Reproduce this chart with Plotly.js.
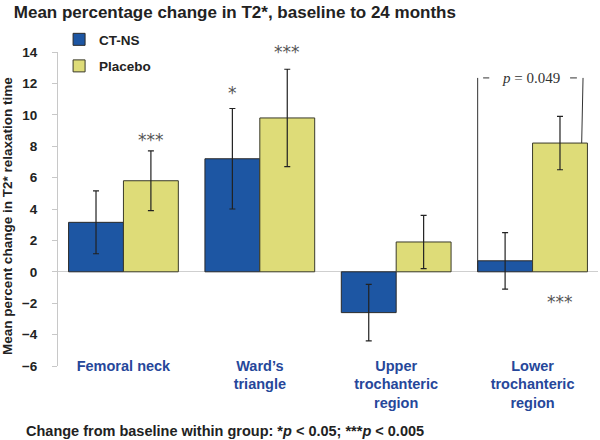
<!DOCTYPE html>
<html>
<head>
<meta charset="utf-8">
<script src="https://cdn.plot.ly/plotly-3.0.1.min.js"></script>
<style>html,body{margin:0;padding:0;background:#fff}#chart{width:600px;height:440px}</style>
</head>
<body>
<div id="chart"></div>
<script>
// ---- data ----
const categories = ["Femoral neck", "Ward\u2019s<br>triangle", "Upper<br>trochanteric<br>region", "Lower<br>trochanteric<br>region"];
const ctnsValues = [3.15, 7.2, -2.6, 0.7];
const ctnsErrors = [2.0, 3.2, 1.8, 1.8];
const placeboValues = [5.8, 9.8, 1.9, 8.2];
const placeboErrors = [1.9, 3.1, 1.7, 1.7];
// significance markers: [category index, series ('ctns'|'placebo'), y position, label]
const sigMarks = [
  [0, "placebo", 8.4, "***"],
  [1, "ctns", 11.4, "*"],
  [1, "placebo", 14.0, "***"],
  [3, "placebo", -1.9, "***"]
];
const pBracket = {cat: 3, top: 12.35, label: "<i>p</i> = 0.049"};
const yTicks = [-6, -4, -2, 0, 2, 4, 6, 8, 10, 12, 14];

const FONT = "Liberation Sans, Arial, Helvetica, sans-serif";
const bargap = 0.195;
const half = (1 - bargap) / 2; // width of one bar in category units
const off = {ctns: -half / 2, placebo: half / 2};

const traces = [
  {
    type: "bar", name: "CT-NS", x: [0,1,2,3], y: ctnsValues,
    legendgroup: "a",
    marker: {color: "#1d56a3", line: {color: "#2a2a2a", width: 1}},
    error_y: {type: "data", array: ctnsErrors, visible: true, color: "#222", thickness: 1.2, width: 3}
  },
  {
    type: "bar", name: "Placebo", x: [0,1,2,3], y: placeboValues,
    legendgroup: "b",
    marker: {color: "#dedc78", line: {color: "#3a3a2a", width: 1}},
    error_y: {type: "data", array: placeboErrors, visible: true, color: "#222", thickness: 1.2, width: 3}
  }
];

const annotations = sigMarks.map(m => ({
  x: m[0] + off[m[1]], y: m[2], xref: "x", yref: "y", text: m[3], showarrow: false,
  font: {family: "DejaVu Sans, sans-serif", size: 17, color: "#555"}, yanchor: "middle"
}));

const bx0 = pBracket.cat - half;          // left edge of CT-NS bar
const bx1 = pBracket.cat + half * 0.92;   // near right side of placebo bar
annotations.push({
  x: pBracket.cat - 0.01, y: pBracket.top, xref: "x", yref: "y", text: pBracket.label, showarrow: false,
  font: {family: "Liberation Serif, Times New Roman, serif", size: 15, color: "#333"}, yanchor: "middle"
});
annotations.push({
  x: -0.063, y: -0.208, xref: "paper", yref: "paper", xanchor: "left", yanchor: "middle",
  text: "Change from baseline within group: *<i>p</i> &lt; 0.05; ***<i>p</i> &lt; 0.005", showarrow: false,
  font: {family: FONT, size: 14.5, color: "#222", weight: "bold"}
});
// y-axis title (placed as an annotation to match the original's offset)
annotations.push({
  x: -0.0926, y: 0.478, xref: "paper", yref: "paper", xanchor: "center", yanchor: "middle",
  textangle: -90, showarrow: false,
  text: "Mean percent change in T2* relaxation time",
  font: {family: FONT, size: 13.5, color: "#222", weight: "bold"}
});

const shapes = [
  {type: "line", xref: "x", yref: "y", x0: bx0, x1: bx0, y0: 0, y1: pBracket.top, line: {color: "#333", width: 1}},
  {type: "line", xref: "x", yref: "y", x0: bx1 - 0.01, x1: bx1, y0: placeboValues[3], y1: pBracket.top, line: {color: "#333", width: 1}},
  {type: "line", xref: "x", yref: "y", x0: bx0 + 0.04, x1: bx0 + 0.085, y0: pBracket.top, y1: pBracket.top, line: {color: "#333", width: 1}},
  {type: "line", xref: "x", yref: "y", x0: bx1 - 0.095, x1: bx1 - 0.045, y0: pBracket.top, y1: pBracket.top, line: {color: "#333", width: 1}}
];

const layout = {
  width: 600, height: 440,
  margin: {l: 58, r: 2, t: 52, b: 73.5},
  paper_bgcolor: "#fff", plot_bgcolor: "#fff",
  font: {family: FONT, color: "#222"},
  title: {
    text: "Mean percentage change in T2*, baseline to 24 months",
    x: 0.023, xanchor: "left", xref: "container",
    y: 0.972, yanchor: "middle", yref: "container",
    font: {family: FONT, size: 17, color: "#222", weight: "bold"}
  },
  barmode: "group", bargap: bargap, bargroupgap: 0,
  xaxis: {
    type: "linear", range: [-0.48, 3.48],
    tickmode: "array", tickvals: [0,1,2,3], ticktext: categories,
    showgrid: false, zeroline: false, showline: false, ticks: "",
    anchor: "free", position: 0.035,
    tickfont: {family: FONT, size: 14.5, color: "#26479a", weight: "bold"}
  },
  yaxis: {
    range: [-6, 14], tickmode: "array", tickvals: yTicks,
    showgrid: false, zeroline: true, zerolinecolor: "#cfcfcf", zerolinewidth: 1,
    showline: true, linecolor: "#c8c8c8", linewidth: 1,
    ticks: "outside", ticklen: 5, tickcolor: "#c8c8c8",
    ticklabelstandoff: 12,
    tickfont: {family: FONT, size: 13.5, color: "#222", weight: "bold"}
  },
  showlegend: true,
  legend: {
    x: 0.002, xanchor: "left", y: 1.089, yanchor: "top",
    bgcolor: "rgba(0,0,0,0)", traceorder: "grouped", tracegroupgap: 6,
    itemwidth: 30,
    font: {family: FONT, size: 13.5, color: "#222", weight: "bold"}
  },
  annotations: annotations,
  shapes: shapes
};

Plotly.newPlot("chart", traces, layout, {displayModeBar: false, staticPlot: true});
</script>
</body>
</html>
